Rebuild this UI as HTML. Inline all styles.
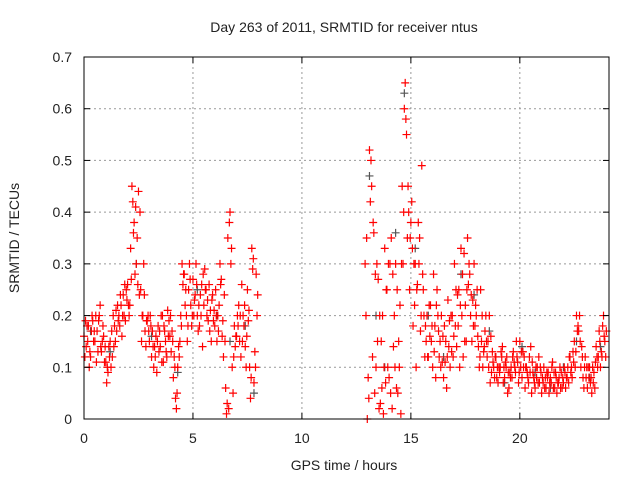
<!DOCTYPE html>
<html><head><meta charset="utf-8"><style>
body{margin:0;background:#fff;}
text{font-family:"Liberation Sans",sans-serif;fill:#222;}
</style></head><body>
<svg id="chart" width="640" height="480" xmlns="http://www.w3.org/2000/svg">
<rect width="640" height="480" fill="#fff"/>
<text x="344" y="32" text-anchor="middle" font-size="14">Day 263 of 2011, SRMTID for receiver ntus</text>
<text x="344" y="470" text-anchor="middle" font-size="14">GPS time / hours</text>
<text transform="translate(19,238) rotate(-90)" text-anchor="middle" font-size="14">SRMTID / TECUs</text>
<g id="grid"></g><g id="gray"></g><g id="red"></g><g id="axes"></g>
</svg>
<script>
const xTicks=[0,5,10,15,20];
const yTicks=[0,0.1,0.2,0.3,0.4,0.5,0.6,0.7];
const hoursA=[0.0,0.1,0.2,0.3,0.4,0.5,0.6,0.7,0.8,0.9,1.0,1.1,1.2,1.3,1.4,1.5,1.6,1.7,1.8,1.9,2.0,2.1,2.2,2.3,2.4,2.5,2.6,2.7,2.8,2.9,3.0,3.1,3.2,3.3,3.4,3.5,3.6,3.7,3.8,3.9,4.0,4.1,4.2,4.3,4.4,4.5,4.6,4.7,4.8,4.9,5.0,5.1,5.2,5.3,5.4,5.5,5.6,5.7,5.8,5.9,6.0,6.1,6.2,6.3,6.4,6.5,6.6,6.7,6.8,6.9,7.0,7.1,7.2,7.3,7.4,7.5,7.6,7.7,7.8,7.9];
const valuesA1=[.16,.14,.18,.12,.19,.15,.17,.2,.13,.16,.11,.09,.15,.12,.18,.17,.2,.22,.24,.19,.26,.22,.45,.38,.3,.44,.25,.2,.17,.19,.15,.12,.1,.16,.18,.14,.2,.17,.12,.19,.13,.08,.04,.1,.15,.3,.28,.2,.25,.22,.27,.24,.2,.18,.26,.22,.25,.19,.21,.24,.18,.15,.22,.27,.12,.06,.35,.4,.1,.18,.16,.22,.12,.2,.14,.25,.1,.33,.07,.28];
const valuesA2=[.12,.18,.1,.17,.15,.2,.13,.22,.15,.11,.07,.14,.1,.2,.15,.22,.18,.16,.2,.25,.22,.33,.42,.28,.35,.24,.15,.3,.14,.2,.2,.17,.14,.09,.13,.2,.11,.15,.21,.16,.17,.12,.02,.14,.2,.26,.22,.15,.3,.18,.2,.3,.17,.24,.14,.29,.2,.26,.15,.19,.25,.2,.3,.16,.24,.01,.02,.3,.05,.14,.2,.15,.26,.18,.1,.19,.04,.29,.13,.2];
const valuesA3=[.19,.15,.13,.2,.17,.11,.19,.14,.18,.14,.1,.12,.17,.14,.21,.19,.24,.2,.26,.23,.2,.27,.36,.41,.26,.4,.2,.24,.19,.17,.18,.14,.12,.15,.17,.11,.18,.13,.16,.2,.15,.1,.05,.12,.18,.28,.25,.18,.27,.2,.23,.26,.22,.2,.28,.25,.23,.17,.23,.21,.2,.17,.26,.19,.15,.03,.38,.33,.12,.16,.18,.2,.15,.22,.16,.21,.08,.31,.1,.24];
const hoursB=[12.9,13.0,13.1,13.2,13.3,13.4,13.5,13.6,13.7,13.8,13.9,14.0,14.1,14.2,14.3,14.4,14.5,14.6,14.7,14.8,14.9,15.0,15.1,15.2,15.3,15.4,15.5,15.6,15.7,15.8,15.9,16.0,16.1,16.2,16.3,16.4,16.5,16.6,16.7,16.8,16.9,17.0,17.1,17.2,17.3,17.4,17.5,17.6,17.7,17.8,17.9,18.0,18.1,18.2,18.3,18.4,18.5,18.6,18.7,18.8,18.9,19.0,19.1,19.2,19.3,19.4,19.5,19.6,19.7,19.8,19.9,20.0,20.1,20.2,20.3,20.4,20.5,20.6,20.7,20.8,20.9,21.0,21.1,21.2,21.3,21.4,21.5,21.6,21.7,21.8,21.9,22.0,22.1,22.2,22.3,22.4,22.5,22.6,22.7,22.8,22.9,23.0,23.1,23.2,23.3,23.4,23.5,23.6,23.7,23.8,23.9];
const valuesB1=[.3,.0,.52,.45,.36,.1,.27,.03,.2,.33,.25,.08,.35,.14,.3,.05,.22,.45,.6,.55,.4,.38,.18,.3,.26,.35,.49,.2,.15,.12,.22,.1,.18,.25,.12,.2,.08,.15,.23,.1,.2,.3,.14,.25,.33,.12,.22,.35,.28,.15,.3,.2,.14,.25,.1,.17,.12,.2,.09,.1,.12,.07,.1,.14,.08,.12,.06,.1,.13,.09,.11,.15,.08,.12,.1,.07,.14,.09,.06,.1,.07,.05,.1,.06,.09,.08,.11,.06,.05,.08,.09,.07,.06,.1,.12,.08,.15,.2,.17,.1,.08,.12,.06,.1,.05,.09,.14,.12,.1,.18,.15];
const valuesB2=[.2,.08,.42,.12,.05,.3,.02,.15,.01,.07,.1,.3,.02,.2,.06,.15,.01,.3,.65,.35,.25,.42,.3,.1,.38,.17,.28,.12,.2,.22,.15,.28,.08,.2,.15,.11,.18,.06,.14,.2,.12,.18,.24,.1,.2,.32,.15,.26,.2,.23,.18,.25,.1,.15,.13,.2,.15,.07,.13,.08,.08,.1,.13,.07,.11,.05,.09,.08,.11,.15,.07,.1,.13,.06,.09,.12,.05,.08,.1,.07,.1,.08,.06,.09,.05,.07,.06,.09,.07,.1,.06,.1,.08,.07,.09,.13,.1,.17,.2,.14,.06,.08,.1,.07,.1,.06,.12,.17,.13,.2,.12];
const valuesB3=[.35,.04,.5,.38,.28,.15,.2,.06,.1,.25,.3,.05,.28,.1,.25,.1,.3,.4,.58,.45,.35,.33,.22,.25,.3,.2,.25,.18,.12,.16,.18,.13,.22,.17,.1,.16,.11,.12,.19,.13,.16,.25,.18,.22,.28,.15,.25,.3,.24,.18,.22,.16,.12,.2,.14,.15,.1,.16,.11,.12,.1,.09,.12,.1,.1,.09,.08,.12,.1,.12,.09,.13,.1,.1,.08,.09,.11,.07,.08,.12,.09,.07,.08,.08,.07,.1,.09,.08,.07,.06,.08,.09,.08,.12,.1,.11,.13,.18,.15,.12,.1,.1,.08,.08,.07,.11,.1,.15,.12,.16,.17];
const grayHours=[0.3,1.2,2.4,3.1,4.3,5.2,6.1,6.7,7.4,7.8,13.1,13.4,13.8,14.3,14.7,15.2,15.8,16.5,17.3,17.9,18.6,19.3,20.1,20.7,21.4,22.0,22.6,23.2,23.7];
const grayValues=[.17,.13,.3,.16,.09,.25,.2,.15,.18,.05,.47,.2,.1,.36,.63,.33,.2,.12,.28,.24,.17,.07,.14,.09,.06,.1,.15,.08,.14];
const X0=84,X1=607,Y0=419,Y1=57;
const xs=h=>X0+(X1-X0)*h/24;
const ys=v=>Y0-(Y0-Y1)*v/0.7;
const NS="http://www.w3.org/2000/svg";
function mk(tag,parent,attrs){const e=document.createElementNS(NS,tag);for(const k in attrs)e.setAttribute(k,attrs[k]);parent.appendChild(e);return e;}
const grid=document.getElementById('grid'),axes=document.getElementById('axes');
xTicks.forEach(t=>{const x=xs(t);
 if(t>0){const l=mk('line',grid,{x1:x,x2:x,y1:Y1,y2:Y0,stroke:'#999','stroke-dasharray':'2,3'});
 
 }
 mk('line',axes,{x1:x,x2:x,y1:Y0,y2:Y0-6,stroke:'#000'});mk('line',axes,{x1:x,x2:x,y1:Y1,y2:Y1+6,stroke:'#000'});
 const tx=mk('text',axes,{x:x,y:Y0+24,'text-anchor':'middle','font-size':'14'});tx.textContent=t;
 
 });
yTicks.forEach(t=>{const y=ys(t);
 if(t>0&&t<0.7){const l=mk('line',grid,{x1:X0,x2:X1+2,y1:y,y2:y,stroke:'#999','stroke-dasharray':'2,3'});
 
 }
 mk('line',axes,{x1:X0,x2:X0+6,y1:y,y2:y,stroke:'#000'});mk('line',axes,{x1:X1+2,x2:X1-4,y1:y,y2:y,stroke:'#000'});
 const tx=mk('text',axes,{x:X0-12,y:y+5,'text-anchor':'end','font-size':'14'});tx.textContent=(t===0?'0':t.toFixed(1));
 
 });
const frame=mk('rect',axes,{x:X0,y:Y1,width:X1+2-X0,height:Y0-Y1,fill:'none',stroke:'#000'});


function plus(g,h,v,c){const x=xs(h),y=ys(v);
 return mk('path',g,{d:`M${x-4} ${y}H${x+4}M${x} ${y-4}V${y+4}`,stroke:c,'stroke-width':1.2,fill:'none'});}
const gg=document.getElementById('gray'),rg=document.getElementById('red');
grayHours.forEach((h,i)=>{const p=plus(gg,h,grayValues[i],'#555');
 
 });
const offsets=[0,0.04,0.07];
[[hoursA,[valuesA1,valuesA2,valuesA3]],[hoursB,[valuesB1,valuesB2,valuesB3]]].forEach(([hs,sets])=>{
 sets.forEach((vs,k)=>{hs.forEach((h,i)=>{const p=plus(rg,h+offsets[k],vs[i],'#f00');
 
 });});});
</script>
</body></html>
